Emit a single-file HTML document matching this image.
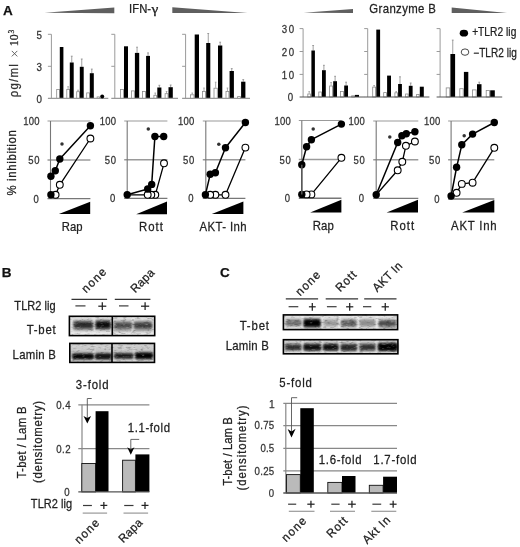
<!DOCTYPE html><html><head><meta charset="utf-8"><style>html,body{margin:0;padding:0;background:#fff;}svg{display:block;filter:blur(0.3px);}text{font-family:"Liberation Sans",sans-serif;}</style></head><body>
<svg width="520" height="547" viewBox="0 0 520 547">
<defs>
<filter id="bl1" x="-20%" y="-50%" width="140%" height="200%"><feGaussianBlur stdDeviation="1.1"/></filter>
<filter id="bl2" x="-20%" y="-50%" width="140%" height="200%"><feGaussianBlur stdDeviation="0.8"/></filter>
<filter id="bl3" x="-10%" y="-10%" width="120%" height="120%"><feGaussianBlur stdDeviation="0.6"/></filter>
<filter id="nzd" x="0" y="0" width="100%" height="100%"><feTurbulence type="fractalNoise" baseFrequency="0.22 0.55" numOctaves="2" seed="4"/><feColorMatrix type="matrix" values="0 0 0 0 0  0 0 0 0 0  0 0 0 0 0  2.2 0 0 0 -1.15"/><feGaussianBlur stdDeviation="0.35"/></filter>
<filter id="nzl" x="0" y="0" width="100%" height="100%"><feTurbulence type="fractalNoise" baseFrequency="0.22 0.55" numOctaves="2" seed="9"/><feColorMatrix type="matrix" values="0 0 0 0 1  0 0 0 0 1  0 0 0 0 1  -2.2 0 0 0 0.95"/><feGaussianBlur stdDeviation="0.35"/></filter>
</defs>
<rect x="0" y="0" width="520" height="547" fill="#fff"/>
<text transform="translate(3 15)" font-size="13.5" text-anchor="start" font-weight="bold" fill="#111" stroke="#111" stroke-width="0.25">A</text>
<text transform="translate(1.8 276.5)" font-size="13.5" text-anchor="start" font-weight="bold" fill="#111" stroke="#111" stroke-width="0.25">B</text>
<text transform="translate(220 277.1)" font-size="13.5" text-anchor="start" font-weight="bold" fill="#111" stroke="#111" stroke-width="0.25">C</text>
<polygon points="44.5,12.8 114.3,7.4 114.3,13.3" fill="#5f5f5f"/>
<polygon points="172.3,7.3 247.5,13 172.3,13" fill="#5f5f5f"/>
<text transform="translate(129.05 12.7) scale(0.94 1)" font-size="12" font-weight="normal" fill="#222" textLength="23.44" lengthAdjust="spacing" stroke="#222" stroke-width="0.25">IFN-</text>
<text transform="translate(151.43 12.7)" font-size="12.5" font-weight="normal" fill="#222" textLength="6.84" lengthAdjust="spacingAndGlyphs" style="font-family:'Liberation Serif',serif" stroke="#222" stroke-width="0.25">γ</text>
<polygon points="303.7,12.8 353,8.9 353,13.1" fill="#5f5f5f"/>
<polygon points="451.7,7.6 507,12.9 451.7,12.9" fill="#5f5f5f"/>
<text transform="translate(369.35 13) scale(0.95 1)" font-size="12" font-weight="normal" fill="#222" textLength="70" lengthAdjust="spacing" stroke="#222" stroke-width="0.25">Granzyme B</text>
<line x1="51.4" y1="34.3" x2="51.4" y2="98.4" stroke="#9a9a9a" stroke-width="1"/>
<line x1="47.9" y1="34.3" x2="51.4" y2="34.3" stroke="#9a9a9a" stroke-width="1"/>
<line x1="47.9" y1="66.3" x2="51.4" y2="66.3" stroke="#9a9a9a" stroke-width="1"/>
<rect x="56.7" y="89.4" width="2.7" height="9" fill="#fff" stroke="#8a8a8a" stroke-width="0.8"/>
<rect x="59.8" y="47" width="3.6" height="51.4" fill="#000"/>
<line x1="68.1" y1="86.7" x2="68.1" y2="89" stroke="#999" stroke-width="0.8"/>
<line x1="67.3" y1="86.7" x2="68.9" y2="86.7" stroke="#999" stroke-width="0.8"/>
<line x1="71.75" y1="56.2" x2="71.75" y2="62.5" stroke="#888" stroke-width="0.8"/>
<line x1="70.85" y1="56.2" x2="72.65" y2="56.2" stroke="#888" stroke-width="0.8"/>
<rect x="66.8" y="89.4" width="2.6" height="9" fill="#fff" stroke="#8a8a8a" stroke-width="0.8"/>
<rect x="69.8" y="62.5" width="3.9" height="35.9" fill="#000"/>
<line x1="78.05" y1="90.2" x2="78.05" y2="91.3" stroke="#999" stroke-width="0.8"/>
<line x1="77.25" y1="90.2" x2="78.85" y2="90.2" stroke="#999" stroke-width="0.8"/>
<line x1="81.75" y1="59" x2="81.75" y2="66.8" stroke="#888" stroke-width="0.8"/>
<line x1="80.85" y1="59" x2="82.65" y2="59" stroke="#888" stroke-width="0.8"/>
<rect x="76.7" y="91.7" width="2.7" height="6.7" fill="#fff" stroke="#8a8a8a" stroke-width="0.8"/>
<rect x="79.8" y="66.8" width="3.9" height="31.6" fill="#000"/>
<line x1="91.8" y1="69.1" x2="91.8" y2="73.2" stroke="#888" stroke-width="0.8"/>
<line x1="90.9" y1="69.1" x2="92.7" y2="69.1" stroke="#888" stroke-width="0.8"/>
<rect x="86.7" y="92.9" width="2.7" height="5.5" fill="#fff" stroke="#8a8a8a" stroke-width="0.8"/>
<rect x="89.8" y="73.2" width="4" height="25.2" fill="#000"/>
<rect x="97.1" y="96.9" width="2.3" height="1.5" fill="#fff" stroke="#8a8a8a" stroke-width="0.8"/>
<rect x="99.8" y="98.4" width="4.2" height="0" fill="#000"/>
<line x1="47.9" y1="98.4" x2="108.3" y2="98.4" stroke="#999" stroke-width="1.1"/>
<circle cx="102.2" cy="96.5" r="2" fill="#000"/>
<line x1="114.8" y1="34.3" x2="114.8" y2="98.4" stroke="#9a9a9a" stroke-width="1"/>
<line x1="111.3" y1="34.3" x2="114.8" y2="34.3" stroke="#9a9a9a" stroke-width="1"/>
<line x1="111.3" y1="66.3" x2="114.8" y2="66.3" stroke="#9a9a9a" stroke-width="1"/>
<rect x="120.5" y="89.5" width="3" height="8.9" fill="#fff" stroke="#8a8a8a" stroke-width="0.8"/>
<rect x="124" y="46.3" width="4" height="52.1" fill="#000"/>
<line x1="137.05" y1="47.2" x2="137.05" y2="52.9" stroke="#888" stroke-width="0.8"/>
<line x1="136.15" y1="47.2" x2="137.95" y2="47.2" stroke="#888" stroke-width="0.8"/>
<rect x="131.4" y="90.9" width="2.9" height="7.5" fill="#fff" stroke="#8a8a8a" stroke-width="0.8"/>
<rect x="134.9" y="52.9" width="4.3" height="45.5" fill="#000"/>
<line x1="148.05" y1="52.9" x2="148.05" y2="55.9" stroke="#888" stroke-width="0.8"/>
<line x1="147.15" y1="52.9" x2="148.95" y2="52.9" stroke="#888" stroke-width="0.8"/>
<rect x="142.5" y="91.5" width="3" height="6.9" fill="#fff" stroke="#8a8a8a" stroke-width="0.8"/>
<rect x="146.1" y="55.9" width="3.9" height="42.5" fill="#000"/>
<line x1="155.25" y1="93" x2="155.25" y2="94.9" stroke="#999" stroke-width="0.8"/>
<line x1="154.45" y1="93" x2="156.05" y2="93" stroke="#999" stroke-width="0.8"/>
<line x1="159.35" y1="85.3" x2="159.35" y2="87.5" stroke="#888" stroke-width="0.8"/>
<line x1="158.45" y1="85.3" x2="160.25" y2="85.3" stroke="#888" stroke-width="0.8"/>
<rect x="153.9" y="95.3" width="2.7" height="3.1" fill="#fff" stroke="#8a8a8a" stroke-width="0.8"/>
<rect x="157.3" y="87.5" width="4.1" height="10.9" fill="#000"/>
<line x1="166.55" y1="91.5" x2="166.55" y2="93.3" stroke="#999" stroke-width="0.8"/>
<line x1="165.75" y1="91.5" x2="167.35" y2="91.5" stroke="#999" stroke-width="0.8"/>
<line x1="170.65" y1="85" x2="170.65" y2="87.2" stroke="#888" stroke-width="0.8"/>
<line x1="169.75" y1="85" x2="171.55" y2="85" stroke="#888" stroke-width="0.8"/>
<rect x="165.1" y="93.7" width="2.9" height="4.7" fill="#fff" stroke="#8a8a8a" stroke-width="0.8"/>
<rect x="168.5" y="87.2" width="4.3" height="11.2" fill="#000"/>
<line x1="111.3" y1="98.4" x2="178" y2="98.4" stroke="#999" stroke-width="1.1"/>
<line x1="185.6" y1="34.3" x2="185.6" y2="98.4" stroke="#9a9a9a" stroke-width="1"/>
<line x1="182.1" y1="34.3" x2="185.6" y2="34.3" stroke="#9a9a9a" stroke-width="1"/>
<line x1="182.1" y1="66.3" x2="185.6" y2="66.3" stroke="#9a9a9a" stroke-width="1"/>
<line x1="192.25" y1="93" x2="192.25" y2="94.4" stroke="#999" stroke-width="0.8"/>
<line x1="191.45" y1="93" x2="193.05" y2="93" stroke="#999" stroke-width="0.8"/>
<rect x="190.5" y="94.8" width="3.5" height="3.6" fill="#fff" stroke="#8a8a8a" stroke-width="0.8"/>
<rect x="194.7" y="34.5" width="4.3" height="63.9" fill="#000"/>
<line x1="204" y1="88" x2="204" y2="91.1" stroke="#999" stroke-width="0.8"/>
<line x1="203.2" y1="88" x2="204.8" y2="88" stroke="#999" stroke-width="0.8"/>
<line x1="208.25" y1="33.5" x2="208.25" y2="43" stroke="#888" stroke-width="0.8"/>
<line x1="207.35" y1="33.5" x2="209.15" y2="33.5" stroke="#888" stroke-width="0.8"/>
<rect x="202.5" y="91.5" width="3" height="6.9" fill="#fff" stroke="#8a8a8a" stroke-width="0.8"/>
<rect x="206.2" y="43" width="4.1" height="55.4" fill="#000"/>
<line x1="215.65" y1="82.2" x2="215.65" y2="87.8" stroke="#999" stroke-width="0.8"/>
<line x1="214.85" y1="82.2" x2="216.45" y2="82.2" stroke="#999" stroke-width="0.8"/>
<line x1="220.15" y1="42.2" x2="220.15" y2="45.5" stroke="#888" stroke-width="0.8"/>
<line x1="219.25" y1="42.2" x2="221.05" y2="42.2" stroke="#888" stroke-width="0.8"/>
<rect x="214" y="88.2" width="3.3" height="10.2" fill="#fff" stroke="#8a8a8a" stroke-width="0.8"/>
<rect x="218" y="45.5" width="4.3" height="52.9" fill="#000"/>
<line x1="227.45" y1="88" x2="227.45" y2="91.1" stroke="#999" stroke-width="0.8"/>
<line x1="226.65" y1="88" x2="228.25" y2="88" stroke="#999" stroke-width="0.8"/>
<line x1="231.75" y1="68.6" x2="231.75" y2="71" stroke="#888" stroke-width="0.8"/>
<line x1="230.85" y1="68.6" x2="232.65" y2="68.6" stroke="#888" stroke-width="0.8"/>
<rect x="226" y="91.5" width="2.9" height="6.9" fill="#fff" stroke="#8a8a8a" stroke-width="0.8"/>
<rect x="229.6" y="71" width="4.3" height="27.4" fill="#000"/>
<line x1="243.25" y1="79.6" x2="243.25" y2="81.7" stroke="#888" stroke-width="0.8"/>
<line x1="242.35" y1="79.6" x2="244.15" y2="79.6" stroke="#888" stroke-width="0.8"/>
<rect x="237.6" y="96.6" width="2.8" height="1.8" fill="#fff" stroke="#8a8a8a" stroke-width="0.8"/>
<rect x="241.1" y="81.7" width="4.3" height="16.7" fill="#000"/>
<line x1="182.1" y1="98.4" x2="250" y2="98.4" stroke="#999" stroke-width="1.1"/>
<text transform="translate(36.41 38.6) scale(0.95 1)" font-size="10.3" font-weight="normal" fill="#333" textLength="6.92" lengthAdjust="spacing" stroke="#333" stroke-width="0.25">5</text>
<text transform="translate(36.41 70.6) scale(0.95 1)" font-size="10.3" font-weight="normal" fill="#333" textLength="6.92" lengthAdjust="spacing" stroke="#333" stroke-width="0.25">3</text>
<text transform="translate(36.41 102.7) scale(0.95 1)" font-size="10.3" font-weight="normal" fill="#333" textLength="6.92" lengthAdjust="spacing" stroke="#333" stroke-width="0.25">0</text>
<line x1="303.1" y1="28.6" x2="303.1" y2="97" stroke="#9a9a9a" stroke-width="1"/>
<line x1="299.6" y1="28.6" x2="303.1" y2="28.6" stroke="#9a9a9a" stroke-width="1"/>
<line x1="299.6" y1="51.5" x2="303.1" y2="51.5" stroke="#9a9a9a" stroke-width="1"/>
<line x1="299.6" y1="74.4" x2="303.1" y2="74.4" stroke="#9a9a9a" stroke-width="1"/>
<line x1="309.2" y1="91.6" x2="309.2" y2="93.6" stroke="#999" stroke-width="0.8"/>
<line x1="308.4" y1="91.6" x2="310" y2="91.6" stroke="#999" stroke-width="0.8"/>
<line x1="313.15" y1="45.5" x2="313.15" y2="50.5" stroke="#888" stroke-width="0.8"/>
<line x1="312.25" y1="45.5" x2="314.05" y2="45.5" stroke="#888" stroke-width="0.8"/>
<rect x="307.8" y="94" width="2.8" height="3" fill="#fff" stroke="#8a8a8a" stroke-width="0.8"/>
<rect x="311.4" y="50.5" width="3.5" height="46.5" fill="#000"/>
<line x1="323.9" y1="65.3" x2="323.9" y2="70.2" stroke="#888" stroke-width="0.8"/>
<line x1="323" y1="65.3" x2="324.8" y2="65.3" stroke="#888" stroke-width="0.8"/>
<rect x="318.8" y="92" width="2.6" height="5" fill="#fff" stroke="#8a8a8a" stroke-width="0.8"/>
<rect x="322" y="70.2" width="3.8" height="26.8" fill="#000"/>
<line x1="331.1" y1="82.5" x2="331.1" y2="85.6" stroke="#999" stroke-width="0.8"/>
<line x1="330.3" y1="82.5" x2="331.9" y2="82.5" stroke="#999" stroke-width="0.8"/>
<line x1="335.1" y1="76.3" x2="335.1" y2="81.2" stroke="#888" stroke-width="0.8"/>
<line x1="334.2" y1="76.3" x2="336" y2="76.3" stroke="#888" stroke-width="0.8"/>
<rect x="329.6" y="86" width="3" height="11" fill="#fff" stroke="#8a8a8a" stroke-width="0.8"/>
<rect x="333.2" y="81.2" width="3.8" height="15.8" fill="#000"/>
<line x1="346.1" y1="82.2" x2="346.1" y2="85.5" stroke="#888" stroke-width="0.8"/>
<line x1="345.2" y1="82.2" x2="347" y2="82.2" stroke="#888" stroke-width="0.8"/>
<rect x="340.4" y="91.5" width="3.1" height="5.5" fill="#fff" stroke="#8a8a8a" stroke-width="0.8"/>
<rect x="344.2" y="85.5" width="3.8" height="11.5" fill="#000"/>
<rect x="351.7" y="95.8" width="2.7" height="1.2" fill="#fff" stroke="#8a8a8a" stroke-width="0.8"/>
<rect x="354.9" y="94.9" width="4.1" height="2.1" fill="#000"/>
<line x1="299.6" y1="97" x2="364.4" y2="97" stroke="#555" stroke-width="1.1"/>
<line x1="367.7" y1="28.6" x2="367.7" y2="97" stroke="#9a9a9a" stroke-width="1"/>
<line x1="364.2" y1="28.6" x2="367.7" y2="28.6" stroke="#9a9a9a" stroke-width="1"/>
<line x1="364.2" y1="51.5" x2="367.7" y2="51.5" stroke="#9a9a9a" stroke-width="1"/>
<line x1="364.2" y1="74.4" x2="367.7" y2="74.4" stroke="#9a9a9a" stroke-width="1"/>
<line x1="374.15" y1="85.5" x2="374.15" y2="86.7" stroke="#999" stroke-width="0.8"/>
<line x1="373.35" y1="85.5" x2="374.95" y2="85.5" stroke="#999" stroke-width="0.8"/>
<rect x="372.7" y="87.1" width="2.9" height="9.9" fill="#fff" stroke="#8a8a8a" stroke-width="0.8"/>
<rect x="376.3" y="29.6" width="3.8" height="67.4" fill="#000"/>
<rect x="383.7" y="92.6" width="2.8" height="4.4" fill="#fff" stroke="#8a8a8a" stroke-width="0.8"/>
<rect x="387.1" y="75.6" width="3.9" height="21.4" fill="#000"/>
<line x1="396.2" y1="91.6" x2="396.2" y2="92.4" stroke="#999" stroke-width="0.8"/>
<line x1="395.4" y1="91.6" x2="397" y2="91.6" stroke="#999" stroke-width="0.8"/>
<line x1="400" y1="76.8" x2="400" y2="84" stroke="#888" stroke-width="0.8"/>
<line x1="399.1" y1="76.8" x2="400.9" y2="76.8" stroke="#888" stroke-width="0.8"/>
<rect x="394.9" y="92.8" width="2.6" height="4.2" fill="#fff" stroke="#8a8a8a" stroke-width="0.8"/>
<rect x="398.1" y="84" width="3.8" height="13" fill="#000"/>
<line x1="410.7" y1="83" x2="410.7" y2="85.8" stroke="#888" stroke-width="0.8"/>
<line x1="409.8" y1="83" x2="411.6" y2="83" stroke="#888" stroke-width="0.8"/>
<rect x="405.6" y="94" width="2.5" height="3" fill="#fff" stroke="#8a8a8a" stroke-width="0.8"/>
<rect x="408.8" y="85.8" width="3.8" height="11.2" fill="#000"/>
<rect x="416.6" y="94.4" width="2.5" height="2.6" fill="#fff" stroke="#8a8a8a" stroke-width="0.8"/>
<rect x="419.8" y="86.7" width="4" height="10.3" fill="#000"/>
<line x1="364.2" y1="97" x2="429.4" y2="97" stroke="#555" stroke-width="1.1"/>
<line x1="440.1" y1="28.6" x2="440.1" y2="97" stroke="#9a9a9a" stroke-width="1"/>
<line x1="436.6" y1="28.6" x2="440.1" y2="28.6" stroke="#9a9a9a" stroke-width="1"/>
<line x1="436.6" y1="51.5" x2="440.1" y2="51.5" stroke="#9a9a9a" stroke-width="1"/>
<line x1="436.6" y1="74.4" x2="440.1" y2="74.4" stroke="#9a9a9a" stroke-width="1"/>
<line x1="452.75" y1="40.1" x2="452.75" y2="54" stroke="#888" stroke-width="0.8"/>
<line x1="451.85" y1="40.1" x2="453.65" y2="40.1" stroke="#888" stroke-width="0.8"/>
<rect x="446.2" y="87.9" width="3.6" height="9.1" fill="#fff" stroke="#8a8a8a" stroke-width="0.8"/>
<rect x="450.4" y="54" width="4.7" height="43" fill="#000"/>
<rect x="459.8" y="88.7" width="3.4" height="8.3" fill="#fff" stroke="#8a8a8a" stroke-width="0.8"/>
<rect x="463.9" y="71.9" width="4.4" height="25.1" fill="#000"/>
<line x1="479.25" y1="82.2" x2="479.25" y2="84.2" stroke="#888" stroke-width="0.8"/>
<line x1="478.35" y1="82.2" x2="480.15" y2="82.2" stroke="#888" stroke-width="0.8"/>
<rect x="472.5" y="89.9" width="3.7" height="7.1" fill="#fff" stroke="#8a8a8a" stroke-width="0.8"/>
<rect x="477" y="84.2" width="4.5" height="12.8" fill="#000"/>
<rect x="486.2" y="90.4" width="3.3" height="6.6" fill="#fff" stroke="#8a8a8a" stroke-width="0.8"/>
<rect x="490.2" y="90.3" width="4.6" height="6.7" fill="#000"/>
<line x1="436.6" y1="97" x2="502.2" y2="97" stroke="#555" stroke-width="1.1"/>
<text transform="translate(281.82 32.8) scale(0.95 1)" font-size="10.2" font-weight="normal" fill="#333" textLength="12.91" lengthAdjust="spacing" stroke="#333" stroke-width="0.25">30</text>
<text transform="translate(281.82 55.7) scale(0.95 1)" font-size="10.2" font-weight="normal" fill="#333" textLength="12.91" lengthAdjust="spacing" stroke="#333" stroke-width="0.25">20</text>
<text transform="translate(281.82 78.6) scale(0.95 1)" font-size="10.2" font-weight="normal" fill="#333" textLength="12.91" lengthAdjust="spacing" stroke="#333" stroke-width="0.25">10</text>
<text transform="translate(287.72 101.2) scale(0.95 1)" font-size="10.2" font-weight="normal" fill="#333" textLength="6.7" lengthAdjust="spacing" stroke="#333" stroke-width="0.25">0</text>
<text transform="translate(18 97.25) rotate(-90) scale(0.95 1)" font-size="12" font-weight="normal" fill="#333" textLength="34.84" lengthAdjust="spacing" stroke="#333" stroke-width="0.25">ρg/ml</text>
<line x1="11.8" y1="50.9" x2="17.3" y2="56.4" stroke="#555" stroke-width="0.9"/>
<line x1="11.8" y1="56.4" x2="17.3" y2="50.9" stroke="#555" stroke-width="0.9"/>
<text transform="translate(18.1 46.17) rotate(-90) scale(0.95 1)" font-size="12.5" font-weight="normal" fill="#222" textLength="12.57" lengthAdjust="spacing" style="font-family:'Liberation Serif',serif" stroke="#222" stroke-width="0.25">10</text>
<text transform="translate(13.9 33.6) rotate(-90) scale(0.95 1)" font-size="8" font-weight="normal" fill="#222" textLength="4.53" lengthAdjust="spacing" style="font-family:'Liberation Serif',serif" stroke="#222" stroke-width="0.25">3</text>
<ellipse cx="463.9" cy="33.2" rx="4.2" ry="3.4" fill="#000"/>
<text transform="translate(472.15 35.6) scale(0.85 1)" font-size="12" font-weight="normal" fill="#222" textLength="51.95" lengthAdjust="spacing" stroke="#222" stroke-width="0.25">+TLR2 lig</text>
<ellipse cx="465" cy="52.1" rx="3.8" ry="3.2" fill="#fff" stroke="#333" stroke-width="0.9"/>
<text transform="translate(473.25 57) scale(0.84 1)" font-size="12" font-weight="normal" fill="#222" textLength="51.95" lengthAdjust="spacing" stroke="#222" stroke-width="0.25">−TLR2 lig</text>
<line x1="47.5" y1="121" x2="90.4" y2="121" stroke="#9a9a9a" stroke-width="1.2"/>
<line x1="47.5" y1="160" x2="90.4" y2="160" stroke="#9a9a9a" stroke-width="1.4"/>
<line x1="47.5" y1="198.6" x2="90.4" y2="198.6" stroke="#777" stroke-width="1.4"/>
<line x1="50.5" y1="121" x2="50.5" y2="198.6" stroke="#777" stroke-width="1.1"/>
<text transform="translate(23.32 125) scale(0.95 1)" font-size="10" font-weight="normal" fill="#333" textLength="17.21" lengthAdjust="spacing" stroke="#333" stroke-width="0.25">100</text>
<text transform="translate(28.32 164) scale(0.95 1)" font-size="10" font-weight="normal" fill="#333" textLength="11.95" lengthAdjust="spacing" stroke="#333" stroke-width="0.25">50</text>
<text transform="translate(33.52 202.6) scale(0.95 1)" font-size="10" font-weight="normal" fill="#333" textLength="6.47" lengthAdjust="spacing" stroke="#333" stroke-width="0.25">0</text>
<polyline points="50.9,194.8 55.6,194.8 59.8,184.8 90.4,138.5" fill="none" stroke="#000" stroke-width="1.3" stroke-linejoin="round"/>
<polyline points="50.9,176.2 55.3,170.7 59.8,159 90.4,125.8" fill="none" stroke="#000" stroke-width="1.5" stroke-linejoin="round"/>
<circle cx="90.4" cy="138.5" r="3.4" fill="#fff" stroke="#000" stroke-width="1.1"/>
<circle cx="59.8" cy="184.8" r="3.4" fill="#fff" stroke="#000" stroke-width="1.1"/>
<circle cx="55.6" cy="194.8" r="3.4" fill="#fff" stroke="#000" stroke-width="1.1"/>
<circle cx="90.4" cy="125.8" r="3.7" fill="#000"/>
<circle cx="59.8" cy="159" r="3.7" fill="#000"/>
<circle cx="55.3" cy="170.7" r="3.7" fill="#000"/>
<circle cx="50.9" cy="176.2" r="3.7" fill="#000"/>
<circle cx="50.9" cy="194.8" r="3.7" fill="#000"/>
<circle cx="62" cy="144" r="1.75" fill="#333"/>
<polygon points="58.9,214 90.2,201.8 90.2,214" fill="#000"/>
<text transform="translate(61.85 230.8) scale(0.94 1)" font-size="12" font-weight="normal" fill="#222" textLength="22.12" lengthAdjust="spacing" stroke="#222" stroke-width="0.25">Rap</text>
<line x1="124.2" y1="121" x2="167.4" y2="121" stroke="#9a9a9a" stroke-width="1.2"/>
<line x1="124.2" y1="159.8" x2="167.4" y2="159.8" stroke="#9a9a9a" stroke-width="1.4"/>
<line x1="124.2" y1="198.4" x2="167.4" y2="198.4" stroke="#777" stroke-width="1.4"/>
<line x1="127.2" y1="121" x2="127.2" y2="198.4" stroke="#777" stroke-width="1.1"/>
<text transform="translate(99.82 125) scale(0.95 1)" font-size="10" font-weight="normal" fill="#333" textLength="17.21" lengthAdjust="spacing" stroke="#333" stroke-width="0.25">100</text>
<text transform="translate(104.83 163.8) scale(0.95 1)" font-size="10" font-weight="normal" fill="#333" textLength="11.95" lengthAdjust="spacing" stroke="#333" stroke-width="0.25">50</text>
<text transform="translate(110.02 202.4) scale(0.95 1)" font-size="10" font-weight="normal" fill="#333" textLength="6.47" lengthAdjust="spacing" stroke="#333" stroke-width="0.25">0</text>
<polyline points="127.2,194.8 147.7,194.8 151.3,194.8 155.3,194.8 164,163.3" fill="none" stroke="#000" stroke-width="1.3" stroke-linejoin="round"/>
<polyline points="127.2,194.8 147.7,189 151.7,184.4 154.9,136.5 163.7,136.5" fill="none" stroke="#000" stroke-width="1.5" stroke-linejoin="round"/>
<circle cx="164" cy="163.3" r="3.4" fill="#fff" stroke="#000" stroke-width="1.1"/>
<circle cx="155.3" cy="194.8" r="3.4" fill="#fff" stroke="#000" stroke-width="1.1"/>
<circle cx="151.3" cy="194.8" r="3.4" fill="#fff" stroke="#000" stroke-width="1.1"/>
<circle cx="147.7" cy="194.8" r="3.4" fill="#fff" stroke="#000" stroke-width="1.1"/>
<circle cx="163.7" cy="136.5" r="3.7" fill="#000"/>
<circle cx="154.9" cy="136.5" r="3.7" fill="#000"/>
<circle cx="151.7" cy="184.4" r="3.7" fill="#000"/>
<circle cx="147.7" cy="189" r="3.7" fill="#000"/>
<circle cx="127.2" cy="194.8" r="3.7" fill="#000"/>
<circle cx="148.3" cy="129.1" r="1.75" fill="#333"/>
<polygon points="136.2,214.3 167,201.5 167,214.3" fill="#000"/>
<text transform="translate(138.95 230.8) scale(0.95 1)" font-size="12" font-weight="normal" fill="#222" textLength="25.26" lengthAdjust="spacing" stroke="#222" stroke-width="0.25">Rott</text>
<line x1="202.8" y1="121" x2="245.4" y2="121" stroke="#9a9a9a" stroke-width="1.2"/>
<line x1="202.8" y1="159.8" x2="245.4" y2="159.8" stroke="#9a9a9a" stroke-width="1.4"/>
<line x1="202.8" y1="198.4" x2="245.4" y2="198.4" stroke="#777" stroke-width="1.4"/>
<line x1="205.8" y1="121" x2="205.8" y2="198.4" stroke="#777" stroke-width="1.1"/>
<text transform="translate(178.03 125) scale(0.95 1)" font-size="10" font-weight="normal" fill="#333" textLength="17.21" lengthAdjust="spacing" stroke="#333" stroke-width="0.25">100</text>
<text transform="translate(183.03 163.8) scale(0.95 1)" font-size="10" font-weight="normal" fill="#333" textLength="11.95" lengthAdjust="spacing" stroke="#333" stroke-width="0.25">50</text>
<text transform="translate(188.22 202.4) scale(0.95 1)" font-size="10" font-weight="normal" fill="#333" textLength="6.47" lengthAdjust="spacing" stroke="#333" stroke-width="0.25">0</text>
<polyline points="205.4,194.8 210.2,194.8 215.4,194.8 225.5,194.8 245.4,147.6" fill="none" stroke="#000" stroke-width="1.3" stroke-linejoin="round"/>
<polyline points="205.4,194.8 210.2,174.3 215.4,172.7 225.5,147.8 245.4,122.5" fill="none" stroke="#000" stroke-width="1.5" stroke-linejoin="round"/>
<circle cx="245.4" cy="147.6" r="3.4" fill="#fff" stroke="#000" stroke-width="1.1"/>
<circle cx="225.5" cy="194.8" r="3.4" fill="#fff" stroke="#000" stroke-width="1.1"/>
<circle cx="215.4" cy="194.8" r="3.4" fill="#fff" stroke="#000" stroke-width="1.1"/>
<circle cx="210.2" cy="194.8" r="3.4" fill="#fff" stroke="#000" stroke-width="1.1"/>
<circle cx="245.4" cy="122.5" r="3.7" fill="#000"/>
<circle cx="225.5" cy="147.8" r="3.7" fill="#000"/>
<circle cx="215.4" cy="172.7" r="3.7" fill="#000"/>
<circle cx="210.2" cy="174.3" r="3.7" fill="#000"/>
<circle cx="205.4" cy="194.8" r="3.7" fill="#000"/>
<circle cx="218.8" cy="144.2" r="1.75" fill="#333"/>
<polygon points="211.8,214.1 243.4,201.5 243.4,214.1" fill="#000"/>
<text transform="translate(199.55 230.8) scale(0.95 1)" font-size="12" font-weight="normal" fill="#222" textLength="49.58" lengthAdjust="spacing" stroke="#222" stroke-width="0.25">AKT- Inh</text>
<line x1="298.8" y1="120.5" x2="341.4" y2="120.5" stroke="#9a9a9a" stroke-width="1.2"/>
<line x1="298.8" y1="159.5" x2="341.4" y2="159.5" stroke="#9a9a9a" stroke-width="1.4"/>
<line x1="298.8" y1="198.2" x2="341.4" y2="198.2" stroke="#777" stroke-width="1.4"/>
<line x1="301.8" y1="120.5" x2="301.8" y2="198.2" stroke="#777" stroke-width="1.1"/>
<text transform="translate(274.43 124.5) scale(0.95 1)" font-size="10" font-weight="normal" fill="#333" textLength="17.21" lengthAdjust="spacing" stroke="#333" stroke-width="0.25">100</text>
<text transform="translate(279.43 163.5) scale(0.95 1)" font-size="10" font-weight="normal" fill="#333" textLength="11.95" lengthAdjust="spacing" stroke="#333" stroke-width="0.25">50</text>
<text transform="translate(284.63 202.2) scale(0.95 1)" font-size="10" font-weight="normal" fill="#333" textLength="6.47" lengthAdjust="spacing" stroke="#333" stroke-width="0.25">0</text>
<polyline points="301.8,194.4 306.6,194.4 311.4,194.4 341.4,157.8" fill="none" stroke="#000" stroke-width="1.3" stroke-linejoin="round"/>
<polyline points="301.8,164.8 306.6,146.8 311.4,139.7 341.4,124.1" fill="none" stroke="#000" stroke-width="1.5" stroke-linejoin="round"/>
<circle cx="341.4" cy="157.8" r="3.4" fill="#fff" stroke="#000" stroke-width="1.1"/>
<circle cx="311.4" cy="194.4" r="3.4" fill="#fff" stroke="#000" stroke-width="1.1"/>
<circle cx="306.6" cy="194.4" r="3.4" fill="#fff" stroke="#000" stroke-width="1.1"/>
<circle cx="341.4" cy="124.1" r="3.7" fill="#000"/>
<circle cx="311.4" cy="139.7" r="3.7" fill="#000"/>
<circle cx="306.6" cy="146.8" r="3.7" fill="#000"/>
<circle cx="301.8" cy="164.8" r="3.7" fill="#000"/>
<circle cx="301.8" cy="194.4" r="3.7" fill="#000"/>
<circle cx="313.2" cy="129.1" r="1.75" fill="#333"/>
<polygon points="310.2,212.5 341.4,199.8 341.4,212.5" fill="#000"/>
<text transform="translate(312.75 230) scale(0.95 1)" font-size="12" font-weight="normal" fill="#222" textLength="22.32" lengthAdjust="spacing" stroke="#222" stroke-width="0.25">Rap</text>
<line x1="301.8" y1="194.4" x2="301.8" y2="164.8" stroke="#555" stroke-width="1.5"/>
<line x1="373.2" y1="121" x2="418.3" y2="121" stroke="#9a9a9a" stroke-width="1.2"/>
<line x1="373.2" y1="159.8" x2="418.3" y2="159.8" stroke="#9a9a9a" stroke-width="1.4"/>
<line x1="373.2" y1="198.4" x2="418.3" y2="198.4" stroke="#777" stroke-width="1.4"/>
<line x1="376.2" y1="121" x2="376.2" y2="198.4" stroke="#777" stroke-width="1.1"/>
<text transform="translate(348.43 125) scale(0.95 1)" font-size="10" font-weight="normal" fill="#333" textLength="17.21" lengthAdjust="spacing" stroke="#333" stroke-width="0.25">100</text>
<text transform="translate(353.43 163.8) scale(0.95 1)" font-size="10" font-weight="normal" fill="#333" textLength="11.95" lengthAdjust="spacing" stroke="#333" stroke-width="0.25">50</text>
<text transform="translate(358.63 202.4) scale(0.95 1)" font-size="10" font-weight="normal" fill="#333" textLength="6.47" lengthAdjust="spacing" stroke="#333" stroke-width="0.25">0</text>
<polyline points="376.2,194.8 397.7,170.3 402.3,161.8 405.9,145.8 414.9,141.5" fill="none" stroke="#000" stroke-width="1.3" stroke-linejoin="round"/>
<polyline points="376.2,194.8 397.7,142.5 401.9,135.7 406.3,133.7 414.9,131.7" fill="none" stroke="#000" stroke-width="1.5" stroke-linejoin="round"/>
<circle cx="414.9" cy="141.5" r="3.4" fill="#fff" stroke="#000" stroke-width="1.1"/>
<circle cx="405.9" cy="145.8" r="3.4" fill="#fff" stroke="#000" stroke-width="1.1"/>
<circle cx="402.3" cy="161.8" r="3.4" fill="#fff" stroke="#000" stroke-width="1.1"/>
<circle cx="397.7" cy="170.3" r="3.4" fill="#fff" stroke="#000" stroke-width="1.1"/>
<circle cx="414.9" cy="131.7" r="3.7" fill="#000"/>
<circle cx="406.3" cy="133.7" r="3.7" fill="#000"/>
<circle cx="401.9" cy="135.7" r="3.7" fill="#000"/>
<circle cx="397.7" cy="142.5" r="3.7" fill="#000"/>
<circle cx="376.2" cy="194.8" r="3.7" fill="#000"/>
<circle cx="389.8" cy="137.1" r="1.75" fill="#333"/>
<polygon points="386.6,212.5 418,199.8 418,212.5" fill="#000"/>
<text transform="translate(390.35 230) scale(0.95 1)" font-size="12" font-weight="normal" fill="#222" textLength="24.95" lengthAdjust="spacing" stroke="#222" stroke-width="0.25">Rott</text>
<line x1="448.1" y1="121" x2="494.3" y2="121" stroke="#9a9a9a" stroke-width="1.2"/>
<line x1="448.1" y1="159.8" x2="494.3" y2="159.8" stroke="#9a9a9a" stroke-width="1.4"/>
<line x1="448.1" y1="199" x2="494.3" y2="199" stroke="#777" stroke-width="1.4"/>
<line x1="451.1" y1="121" x2="451.1" y2="199" stroke="#777" stroke-width="1.1"/>
<text transform="translate(424.02 125) scale(0.95 1)" font-size="10" font-weight="normal" fill="#333" textLength="17.21" lengthAdjust="spacing" stroke="#333" stroke-width="0.25">100</text>
<text transform="translate(429.02 163.8) scale(0.95 1)" font-size="10" font-weight="normal" fill="#333" textLength="11.95" lengthAdjust="spacing" stroke="#333" stroke-width="0.25">50</text>
<text transform="translate(434.23 203) scale(0.95 1)" font-size="10" font-weight="normal" fill="#333" textLength="6.47" lengthAdjust="spacing" stroke="#333" stroke-width="0.25">0</text>
<polyline points="451.1,196 456.6,192.8 461.8,183.9 472.6,182.7 494.3,147.8" fill="none" stroke="#000" stroke-width="1.3" stroke-linejoin="round"/>
<polyline points="451.1,196 456.6,167.3 461.8,144.8 472.6,134.1 494.3,122.5" fill="none" stroke="#000" stroke-width="1.5" stroke-linejoin="round"/>
<circle cx="494.3" cy="147.8" r="3.4" fill="#fff" stroke="#000" stroke-width="1.1"/>
<circle cx="472.6" cy="182.7" r="3.4" fill="#fff" stroke="#000" stroke-width="1.1"/>
<circle cx="461.8" cy="183.9" r="3.4" fill="#fff" stroke="#000" stroke-width="1.1"/>
<circle cx="456.6" cy="192.8" r="3.4" fill="#fff" stroke="#000" stroke-width="1.1"/>
<circle cx="494.3" cy="122.5" r="3.7" fill="#000"/>
<circle cx="472.6" cy="134.1" r="3.7" fill="#000"/>
<circle cx="461.8" cy="144.8" r="3.7" fill="#000"/>
<circle cx="456.6" cy="167.3" r="3.7" fill="#000"/>
<circle cx="451.1" cy="196" r="3.7" fill="#000"/>
<circle cx="464.2" cy="135.7" r="1.75" fill="#333"/>
<polygon points="462.2,212.5 494.3,200 494.3,212.5" fill="#000"/>
<text transform="translate(451.05 229.5) scale(0.95 1)" font-size="12" font-weight="normal" fill="#222" textLength="48" lengthAdjust="spacing" stroke="#222" stroke-width="0.25">AKT  Inh</text>
<text transform="translate(16.4 195.45) rotate(-90) scale(0.95 1)" font-size="12" font-weight="normal" fill="#222" textLength="68.74" lengthAdjust="spacing" stroke="#222" stroke-width="0.25">% inhibition</text>
<text transform="translate(86.28 293.52) rotate(-45) scale(0.95 1)" font-size="12" font-weight="normal" fill="#222" textLength="30.95" lengthAdjust="spacing" stroke="#222" stroke-width="0.25">none</text>
<text transform="translate(135.28 293.52) rotate(-45) scale(0.95 1)" font-size="12" font-weight="normal" fill="#222" textLength="29.89" lengthAdjust="spacing" stroke="#222" stroke-width="0.25">Rapa</text>
<line x1="71.5" y1="299.4" x2="107.1" y2="299.4" stroke="#333" stroke-width="1.2"/>
<line x1="114.8" y1="299.4" x2="150.4" y2="299.4" stroke="#333" stroke-width="1.2"/>
<text transform="translate(14.35 310.1) scale(0.92 1)" font-size="12" font-weight="normal" fill="#222" textLength="44.91" lengthAdjust="spacing" stroke="#222" stroke-width="0.25">TLR2 lig</text>
<line x1="75.4" y1="305.9" x2="85.5" y2="305.9" stroke="#3a3a3a" stroke-width="1.2"/>
<line x1="98.3" y1="306.2" x2="106.3" y2="306.2" stroke="#222" stroke-width="1.25"/>
<line x1="102.3" y1="302.3" x2="102.3" y2="310.1" stroke="#222" stroke-width="1.25"/>
<line x1="119" y1="305.9" x2="128.5" y2="305.9" stroke="#3a3a3a" stroke-width="1.2"/>
<line x1="141" y1="306.2" x2="149.2" y2="306.2" stroke="#222" stroke-width="1.25"/>
<line x1="145.1" y1="302.3" x2="145.1" y2="310.1" stroke="#222" stroke-width="1.25"/>
<text transform="translate(26.65 334.1) scale(0.95 1)" font-size="12" font-weight="normal" fill="#222" textLength="30.63" lengthAdjust="spacing" stroke="#222" stroke-width="0.25">T-bet</text>
<text transform="translate(12.55 358.8) scale(0.95 1)" font-size="12" font-weight="normal" fill="#222" textLength="45.68" lengthAdjust="spacing" stroke="#222" stroke-width="0.25">Lamin B</text>
<linearGradient id="g69_316" x1="0" y1="0" x2="0" y2="1"><stop offset="0" stop-color="#e2e2e2"/><stop offset="0.5" stop-color="#dadada"/><stop offset="0.8" stop-color="#e6e6e6"/><stop offset="1" stop-color="#ececec"/></linearGradient>
<rect x="69.4" y="316.3" width="85.3" height="19.3" fill="url(#g69_316)"/>
<rect x="92.8" y="316.3" width="2" height="19.3" fill="#eee" filter="url(#bl2)"/>
<rect x="132" y="316.3" width="2" height="19.3" fill="#eee" filter="url(#bl2)"/>
<rect x="73.5" y="320.05" width="19.8" height="10.5" rx="1.5" fill="#8a8a8a" filter="url(#bl1)"/>
<rect x="74" y="322" width="18.8" height="6" rx="1.5" fill="#2e2e2e" filter="url(#bl2)"/>
<rect x="95.4" y="319.75" width="15.3" height="10.5" rx="1.5" fill="#777" filter="url(#bl1)"/>
<rect x="95.9" y="321.45" width="14.3" height="6.5" rx="1.5" fill="#101010" filter="url(#bl2)"/>
<rect x="113.7" y="320.5" width="18.5" height="11" rx="1.5" fill="#a0a0a0" filter="url(#bl1)"/>
<rect x="114.2" y="322.75" width="17.5" height="5.5" rx="1.5" fill="#4e4e4e" filter="url(#bl2)"/>
<rect x="133.7" y="320.5" width="18.8" height="11" rx="1.5" fill="#9a9a9a" filter="url(#bl1)"/>
<rect x="134.2" y="322.75" width="17.8" height="5.5" rx="1.5" fill="#404040" filter="url(#bl2)"/>
<rect x="69.4" y="316.3" width="85.3" height="19.3" fill="#000" filter="url(#nzd)" opacity="0.4"/>
<rect x="69.4" y="316.3" width="85.3" height="19.3" fill="#fff" filter="url(#nzl)" opacity="0.45"/>
<rect x="69.4" y="316.3" width="85.3" height="19.3" fill="none" stroke="#000" stroke-width="1.6"/>
<line x1="112.3" y1="316.3" x2="112.3" y2="335.6" stroke="#000" stroke-width="1.6"/>
<linearGradient id="g69_343" x1="0" y1="0" x2="0" y2="1"><stop offset="0" stop-color="#d2d2d2"/><stop offset="0.35" stop-color="#c6c6c6"/><stop offset="0.52" stop-color="#b6b6b6"/><stop offset="0.78" stop-color="#c8c8c8"/><stop offset="1" stop-color="#e4e4e4"/></linearGradient>
<rect x="69.8" y="343.4" width="84.7" height="19" fill="url(#g69_343)"/>
<rect x="93.6" y="343.4" width="1.6" height="19" fill="#d8d8d8" filter="url(#bl2)"/>
<rect x="133.1" y="343.4" width="1.8" height="19" fill="#d8d8d8" filter="url(#bl2)"/>
<rect x="72.3" y="353.15" width="21.7" height="6.5" rx="1.5" fill="#555" filter="url(#bl1)"/>
<rect x="72.8" y="354.3" width="20.7" height="4.2" rx="1.5" fill="#050505" filter="url(#bl2)"/>
<rect x="95" y="353.15" width="16.8" height="6.5" rx="1.5" fill="#555" filter="url(#bl1)"/>
<rect x="95.5" y="354.3" width="15.8" height="4.2" rx="1.5" fill="#080808" filter="url(#bl2)"/>
<rect x="114.3" y="353" width="19" height="6" rx="1.5" fill="#606060" filter="url(#bl1)"/>
<rect x="114.8" y="354.2" width="18" height="3.6" rx="1.5" fill="#0a0a0a" filter="url(#bl2)"/>
<rect x="135.1" y="352.2" width="17.7" height="7" rx="1.5" fill="#444" filter="url(#bl1)"/>
<rect x="135.6" y="353.2" width="16.7" height="5" rx="1.5" fill="#050505" filter="url(#bl2)"/>
<rect x="69.8" y="343.4" width="84.7" height="19" fill="#000" filter="url(#nzd)" opacity="0.4"/>
<rect x="69.8" y="343.4" width="84.7" height="19" fill="#fff" filter="url(#nzl)" opacity="0.45"/>
<rect x="69.8" y="343.4" width="84.7" height="19" fill="none" stroke="#000" stroke-width="1.6"/>
<line x1="112" y1="343.4" x2="112" y2="362.4" stroke="#000" stroke-width="1.6"/>
<line x1="78.3" y1="404.8" x2="149.4" y2="404.8" stroke="#888" stroke-width="1.2"/>
<line x1="78.3" y1="448.6" x2="149.4" y2="448.6" stroke="#888" stroke-width="1.2"/>
<line x1="82" y1="404.8" x2="82" y2="491.9" stroke="#888" stroke-width="1.2"/>
<rect x="81.8" y="463.5" width="13.8" height="28.4" fill="#bababa" stroke="#111" stroke-width="0.9"/>
<rect x="95.6" y="411.2" width="12.9" height="80.7" fill="#000"/>
<rect x="122.6" y="460.2" width="12.8" height="31.7" fill="#bababa" stroke="#111" stroke-width="0.9"/>
<rect x="135.4" y="454.4" width="14" height="37.5" fill="#000"/>
<line x1="78.3" y1="491.9" x2="149.4" y2="491.9" stroke="#555" stroke-width="1.4"/>
<text transform="translate(56.22 408.9) scale(0.95 1)" font-size="10.2" font-weight="normal" fill="#333" textLength="15.23" lengthAdjust="spacing" stroke="#333" stroke-width="0.25">0.4</text>
<text transform="translate(56.22 452.6) scale(0.95 1)" font-size="10.2" font-weight="normal" fill="#333" textLength="15.23" lengthAdjust="spacing" stroke="#333" stroke-width="0.25">0.2</text>
<text transform="translate(64.32 496) scale(0.95 1)" font-size="10.2" font-weight="normal" fill="#333" textLength="6.7" lengthAdjust="spacing" stroke="#333" stroke-width="0.25">0</text>
<text transform="translate(75.85 389.4) scale(0.95 1)" font-size="12" font-weight="normal" fill="#222" textLength="34.42" lengthAdjust="spacing" stroke="#222" stroke-width="0.25">3-fold</text>
<text transform="translate(127.75 432.2) scale(0.95 1)" font-size="12" font-weight="normal" fill="#222" textLength="44.53" lengthAdjust="spacing" stroke="#222" stroke-width="0.25">1.1-fold</text>
<polyline points="91.7,398.5 87.3,398.5 87.3,419" fill="none" stroke="#555" stroke-width="0.9"/>
<polygon points="83.5,415.9 87.3,418 91.1,415.9 87.3,423.5" fill="#000"/>
<polyline points="139.2,439.4 130.8,439.4 130.8,450" fill="none" stroke="#555" stroke-width="0.9"/>
<polygon points="127.2,447.3 130.8,449.4 134.4,447.3 130.8,454.7" fill="#000"/>
<text transform="translate(26 478.55) rotate(-90) scale(0.95 1)" font-size="12" font-weight="normal" fill="#222" textLength="76" lengthAdjust="spacing" stroke="#222" stroke-width="0.25">T-bet / Lam B</text>
<text transform="translate(41.9 483.05) rotate(-90) scale(0.95 1)" font-size="12" font-weight="normal" fill="#222" textLength="86.42" lengthAdjust="spacing" stroke="#222" stroke-width="0.25">(densitometry)</text>
<text transform="translate(30.85 507.5) scale(0.92 1)" font-size="12" font-weight="normal" fill="#222" textLength="44.91" lengthAdjust="spacing" stroke="#222" stroke-width="0.25">TLR2 lig</text>
<line x1="83" y1="505.5" x2="91.9" y2="505.5" stroke="#3a3a3a" stroke-width="1.2"/>
<line x1="100.4" y1="505.4" x2="107.3" y2="505.4" stroke="#222" stroke-width="1.25"/>
<line x1="103.85" y1="501.9" x2="103.85" y2="508.9" stroke="#222" stroke-width="1.25"/>
<line x1="124.2" y1="505.5" x2="133.5" y2="505.5" stroke="#3a3a3a" stroke-width="1.2"/>
<line x1="141.5" y1="505.4" x2="148.5" y2="505.4" stroke="#222" stroke-width="1.25"/>
<line x1="145" y1="501.9" x2="145" y2="508.9" stroke="#222" stroke-width="1.25"/>
<line x1="82.7" y1="513.1" x2="107.1" y2="513.1" stroke="#999" stroke-width="1.2"/>
<line x1="123.5" y1="513.1" x2="148.1" y2="513.1" stroke="#999" stroke-width="1.2"/>
<text transform="translate(79.28 544.52) rotate(-45) scale(0.95 1)" font-size="12" font-weight="normal" fill="#222" textLength="30.95" lengthAdjust="spacing" stroke="#222" stroke-width="0.25">none</text>
<text transform="translate(123.28 543.52) rotate(-45) scale(0.95 1)" font-size="12" font-weight="normal" fill="#222" textLength="29.89" lengthAdjust="spacing" stroke="#222" stroke-width="0.25">Rapa</text>
<text transform="translate(300.28 296.52) rotate(-45) scale(0.95 1)" font-size="12" font-weight="normal" fill="#222" textLength="30.95" lengthAdjust="spacing" stroke="#222" stroke-width="0.25">none</text>
<text transform="translate(340.28 292.52) rotate(-45) scale(0.95 1)" font-size="12" font-weight="normal" fill="#222" textLength="25.16" lengthAdjust="spacing" stroke="#222" stroke-width="0.25">Rott</text>
<text transform="translate(377.28 292.52) rotate(-45) scale(0.95 1)" font-size="12" font-weight="normal" fill="#222" textLength="38.32" lengthAdjust="spacing" stroke="#222" stroke-width="0.25">AKT In</text>
<line x1="285.8" y1="298.8" x2="318.1" y2="298.8" stroke="#333" stroke-width="1.2"/>
<line x1="325.7" y1="298.8" x2="358.1" y2="298.8" stroke="#333" stroke-width="1.2"/>
<line x1="364.2" y1="298.8" x2="396.5" y2="298.8" stroke="#333" stroke-width="1.2"/>
<line x1="288.6" y1="306.7" x2="298.3" y2="306.7" stroke="#3a3a3a" stroke-width="1.2"/>
<line x1="308.9" y1="306.8" x2="315.7" y2="306.8" stroke="#222" stroke-width="1.25"/>
<line x1="312.3" y1="302.9" x2="312.3" y2="310.7" stroke="#222" stroke-width="1.25"/>
<line x1="326.9" y1="306.7" x2="336.6" y2="306.7" stroke="#3a3a3a" stroke-width="1.2"/>
<line x1="346.1" y1="306.8" x2="353.3" y2="306.8" stroke="#222" stroke-width="1.25"/>
<line x1="349.7" y1="302.9" x2="349.7" y2="310.7" stroke="#222" stroke-width="1.25"/>
<line x1="363" y1="306.7" x2="371.3" y2="306.7" stroke="#3a3a3a" stroke-width="1.2"/>
<line x1="381.6" y1="306.8" x2="388.9" y2="306.8" stroke="#222" stroke-width="1.25"/>
<line x1="385.25" y1="302.9" x2="385.25" y2="310.7" stroke="#222" stroke-width="1.25"/>
<text transform="translate(239.75 329.5) scale(0.95 1)" font-size="12" font-weight="normal" fill="#222" textLength="30.74" lengthAdjust="spacing" stroke="#222" stroke-width="0.25">T-bet</text>
<text transform="translate(225.65 349.8) scale(0.95 1)" font-size="12" font-weight="normal" fill="#222" textLength="45.58" lengthAdjust="spacing" stroke="#222" stroke-width="0.25">Lamin B</text>
<linearGradient id="g283_314" x1="0" y1="0" x2="0" y2="1"><stop offset="0" stop-color="#e4e4e4"/><stop offset="0.5" stop-color="#dcdcdc"/><stop offset="1" stop-color="#e8e8e8"/></linearGradient>
<rect x="283.4" y="314.9" width="114.2" height="14.7" fill="url(#g283_314)"/>
<rect x="301.6" y="314.9" width="2" height="14.7" fill="#f2f2f2" filter="url(#bl2)"/>
<rect x="321" y="314.9" width="2" height="14.7" fill="#f2f2f2" filter="url(#bl2)"/>
<rect x="338.4" y="314.9" width="2" height="14.7" fill="#f2f2f2" filter="url(#bl2)"/>
<rect x="357.2" y="314.9" width="2" height="14.7" fill="#f2f2f2" filter="url(#bl2)"/>
<rect x="376" y="314.9" width="2" height="14.7" fill="#f2f2f2" filter="url(#bl2)"/>
<rect x="285.5" y="318.7" width="16.2" height="8" rx="1.5" fill="#b0b0b0" filter="url(#bl1)"/>
<rect x="286" y="320.2" width="15.2" height="5" rx="1.5" fill="#6e6e6e" filter="url(#bl2)"/>
<rect x="303.5" y="318.55" width="17.3" height="9.5" rx="1.5" fill="#666" filter="url(#bl1)"/>
<rect x="304" y="319.75" width="16.3" height="6.5" rx="1.5" fill="#050505" filter="url(#bl2)"/>
<rect x="323.3" y="319" width="14.7" height="8" rx="1.5" fill="#c0c0c0" filter="url(#bl1)"/>
<rect x="323.8" y="320.5" width="13.7" height="5" rx="1.5" fill="#9a9a9a" filter="url(#bl2)"/>
<rect x="340.8" y="318.95" width="16" height="8.5" rx="1.5" fill="#aaa" filter="url(#bl1)"/>
<rect x="341.3" y="320.45" width="15" height="5.5" rx="1.5" fill="#5e5e5e" filter="url(#bl2)"/>
<rect x="359.5" y="318.75" width="16" height="8.5" rx="1.5" fill="#bbb" filter="url(#bl1)"/>
<rect x="360" y="320.25" width="15" height="5.5" rx="1.5" fill="#8e8e8e" filter="url(#bl2)"/>
<rect x="378.5" y="319.25" width="17.6" height="8.5" rx="1.5" fill="#a0a0a0" filter="url(#bl1)"/>
<rect x="379" y="320.75" width="16.6" height="5.5" rx="1.5" fill="#4e4e4e" filter="url(#bl2)"/>
<rect x="283.4" y="314.9" width="114.2" height="14.7" fill="#000" filter="url(#nzd)" opacity="0.4"/>
<rect x="283.4" y="314.9" width="114.2" height="14.7" fill="#fff" filter="url(#nzl)" opacity="0.45"/>
<rect x="283.4" y="314.9" width="114.2" height="14.7" fill="none" stroke="#000" stroke-width="1.6"/>
<linearGradient id="g283_339" x1="0" y1="0" x2="0" y2="1"><stop offset="0" stop-color="#d2d2d2"/><stop offset="0.35" stop-color="#c4c4c4"/><stop offset="0.7" stop-color="#cfcfcf"/><stop offset="1" stop-color="#e4e4e4"/></linearGradient>
<rect x="283.4" y="339.7" width="114.5" height="14.1" fill="url(#g283_339)"/>
<rect x="301.6" y="339.7" width="2" height="14.1" fill="#e6e6e6" filter="url(#bl2)"/>
<rect x="321" y="339.7" width="2" height="14.1" fill="#e6e6e6" filter="url(#bl2)"/>
<rect x="338.4" y="339.7" width="2" height="14.1" fill="#e6e6e6" filter="url(#bl2)"/>
<rect x="357.2" y="339.7" width="2" height="14.1" fill="#e6e6e6" filter="url(#bl2)"/>
<rect x="376" y="339.7" width="2" height="14.1" fill="#e6e6e6" filter="url(#bl2)"/>
<rect x="285" y="343.8" width="16.5" height="7" rx="1.5" fill="#777" filter="url(#bl1)"/>
<rect x="285.5" y="345.3" width="15.5" height="4" rx="1.5" fill="#2a2a2a" filter="url(#bl2)"/>
<rect x="303.5" y="343.45" width="17.5" height="7.5" rx="1.5" fill="#555" filter="url(#bl1)"/>
<rect x="304" y="344.7" width="16.5" height="5" rx="1.5" fill="#0a0a0a" filter="url(#bl2)"/>
<rect x="323" y="343.45" width="15.5" height="7.5" rx="1.5" fill="#555" filter="url(#bl1)"/>
<rect x="323.5" y="344.7" width="14.5" height="5" rx="1.5" fill="#101010" filter="url(#bl2)"/>
<rect x="340.8" y="343.65" width="16.2" height="7.5" rx="1.5" fill="#666" filter="url(#bl1)"/>
<rect x="341.3" y="344.9" width="15.2" height="5" rx="1.5" fill="#262626" filter="url(#bl2)"/>
<rect x="359.5" y="343.45" width="16" height="7.5" rx="1.5" fill="#777" filter="url(#bl1)"/>
<rect x="360" y="344.7" width="15" height="5" rx="1.5" fill="#333" filter="url(#bl2)"/>
<rect x="378" y="342.75" width="19.5" height="8.5" rx="1.5" fill="#333" filter="url(#bl1)"/>
<rect x="378.5" y="344" width="18.5" height="6" rx="1.5" fill="#020202" filter="url(#bl2)"/>
<rect x="283.4" y="339.7" width="114.5" height="14.1" fill="#000" filter="url(#nzd)" opacity="0.4"/>
<rect x="283.4" y="339.7" width="114.5" height="14.1" fill="#fff" filter="url(#nzl)" opacity="0.45"/>
<rect x="283.4" y="339.7" width="114.5" height="14.1" fill="none" stroke="#000" stroke-width="1.6"/>
<line x1="283.3" y1="403.4" x2="397" y2="403.4" stroke="#888" stroke-width="1.2"/>
<line x1="283.3" y1="425.7" x2="397" y2="425.7" stroke="#888" stroke-width="1.2"/>
<line x1="283.3" y1="448.3" x2="397" y2="448.3" stroke="#888" stroke-width="1.2"/>
<line x1="283.3" y1="470.8" x2="397" y2="470.8" stroke="#888" stroke-width="1.2"/>
<line x1="285.8" y1="403.4" x2="285.8" y2="493" stroke="#888" stroke-width="1.2"/>
<rect x="286.5" y="474.6" width="13.8" height="18.4" fill="#bababa" stroke="#111" stroke-width="0.9"/>
<rect x="300.3" y="408.2" width="13.5" height="84.8" fill="#000"/>
<rect x="327.8" y="482.4" width="14.2" height="10.6" fill="#bababa" stroke="#111" stroke-width="0.9"/>
<rect x="342" y="476" width="13.5" height="17" fill="#000"/>
<rect x="369.3" y="485.3" width="13.8" height="7.7" fill="#bababa" stroke="#111" stroke-width="0.9"/>
<rect x="383.1" y="476.7" width="13.9" height="16.3" fill="#000"/>
<line x1="283.3" y1="493" x2="397" y2="493" stroke="#555" stroke-width="1.4"/>
<text transform="translate(254.52 429.3) scale(0.95 1)" font-size="10.2" font-weight="normal" fill="#333" textLength="20.7" lengthAdjust="spacing" stroke="#333" stroke-width="0.25">0.75</text>
<text transform="translate(260.42 452.2) scale(0.95 1)" font-size="10.2" font-weight="normal" fill="#333" textLength="14.49" lengthAdjust="spacing" stroke="#333" stroke-width="0.25">0.5</text>
<text transform="translate(254.52 474.7) scale(0.95 1)" font-size="10.2" font-weight="normal" fill="#333" textLength="20.7" lengthAdjust="spacing" stroke="#333" stroke-width="0.25">0.25</text>
<text transform="translate(268.82 497.2) scale(0.94 1)" font-size="10.2" font-weight="normal" fill="#333" textLength="5.7" lengthAdjust="spacing" stroke="#333" stroke-width="0.25">0</text>
<text transform="translate(274.7 407.5)" font-size="10.2" text-anchor="end" font-weight="normal" fill="#333" stroke="#333" stroke-width="0.25">1</text>
<text transform="translate(279.25 387.2) scale(0.95 1)" font-size="12" font-weight="normal" fill="#222" textLength="34.42" lengthAdjust="spacing" stroke="#222" stroke-width="0.25">5-fold</text>
<text transform="translate(318.75 463.6) scale(0.95 1)" font-size="12" font-weight="normal" fill="#222" textLength="45.16" lengthAdjust="spacing" stroke="#222" stroke-width="0.25">1.6-fold</text>
<text transform="translate(373.35 463.7) scale(0.95 1)" font-size="12" font-weight="normal" fill="#222" textLength="45.58" lengthAdjust="spacing" stroke="#222" stroke-width="0.25">1.7-fold</text>
<polyline points="297.2,397.7 291.5,397.7 291.5,432" fill="none" stroke="#555" stroke-width="0.9"/>
<polygon points="287.6,429 291.5,431.4 295.6,428.8 291.5,437.5" fill="#000"/>
<text transform="translate(231.8 485.85) rotate(-90) scale(0.94 1)" font-size="12" font-weight="normal" fill="#222" textLength="73.06" lengthAdjust="spacing" stroke="#222" stroke-width="0.25">T-bet / Lam B</text>
<text transform="translate(246.3 490.45) rotate(-90) scale(0.95 1)" font-size="12" font-weight="normal" fill="#222" textLength="89.37" lengthAdjust="spacing" stroke="#222" stroke-width="0.25">(densitometry)</text>
<line x1="288.1" y1="504.2" x2="296.2" y2="504.2" stroke="#3a3a3a" stroke-width="1.2"/>
<line x1="307.3" y1="504.2" x2="314.6" y2="504.2" stroke="#222" stroke-width="1.25"/>
<line x1="310.95" y1="500.7" x2="310.95" y2="507.7" stroke="#222" stroke-width="1.25"/>
<line x1="331.3" y1="504.2" x2="339.6" y2="504.2" stroke="#3a3a3a" stroke-width="1.2"/>
<line x1="348.1" y1="504.2" x2="355.8" y2="504.2" stroke="#222" stroke-width="1.25"/>
<line x1="351.95" y1="500.7" x2="351.95" y2="507.7" stroke="#222" stroke-width="1.25"/>
<line x1="372.4" y1="504.2" x2="381.2" y2="504.2" stroke="#3a3a3a" stroke-width="1.2"/>
<line x1="389.7" y1="504.2" x2="396.6" y2="504.2" stroke="#222" stroke-width="1.25"/>
<line x1="393.15" y1="500.7" x2="393.15" y2="507.7" stroke="#222" stroke-width="1.25"/>
<line x1="288.8" y1="511.3" x2="314.5" y2="511.3" stroke="#999" stroke-width="1.2"/>
<line x1="330" y1="511.3" x2="355" y2="511.3" stroke="#999" stroke-width="1.2"/>
<line x1="371.3" y1="511.3" x2="396.3" y2="511.3" stroke="#999" stroke-width="1.2"/>
<text transform="translate(286.28 542.52) rotate(-45) scale(0.95 1)" font-size="12" font-weight="normal" fill="#222" textLength="30.95" lengthAdjust="spacing" stroke="#222" stroke-width="0.25">none</text>
<text transform="translate(331.28 538.52) rotate(-45) scale(0.95 1)" font-size="12" font-weight="normal" fill="#222" textLength="25.16" lengthAdjust="spacing" stroke="#222" stroke-width="0.25">Rott</text>
<text transform="translate(367.28 544.52) rotate(-45) scale(0.95 1)" font-size="12" font-weight="normal" fill="#222" textLength="35.16" lengthAdjust="spacing" stroke="#222" stroke-width="0.25">Akt In</text>
</svg></body></html>
